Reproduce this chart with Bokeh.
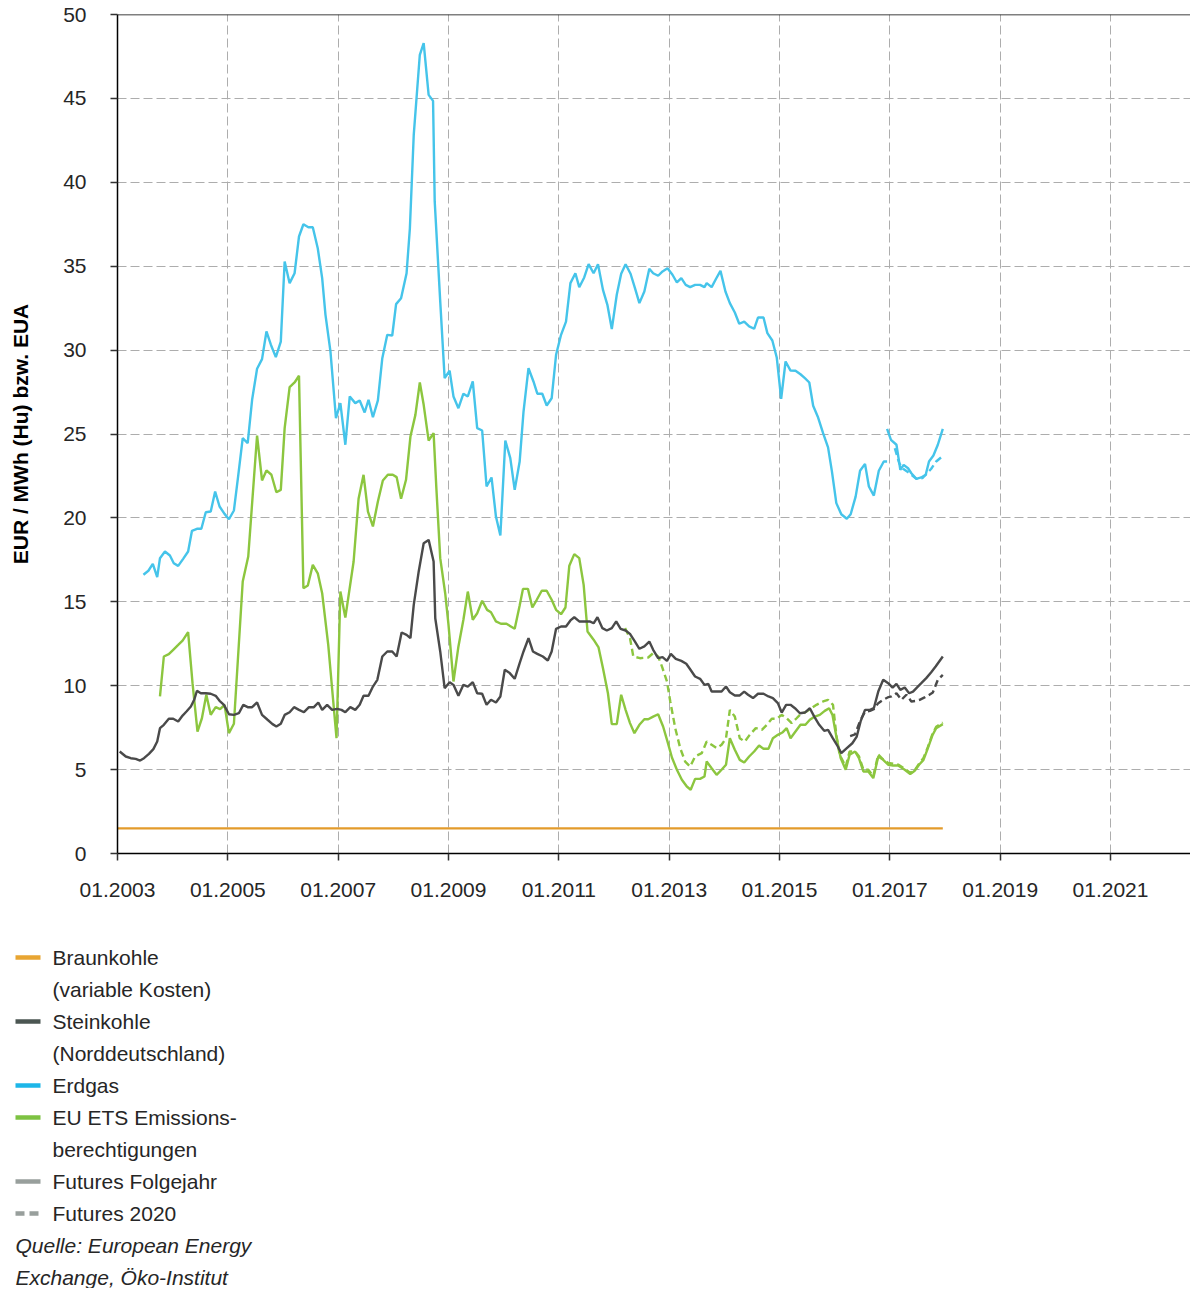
from bokeh.plotting import figure
from bokeh.models import Range1d, FixedTicker, Span
from bokeh.layouts import column
from bokeh.embed import file_html
from bokeh.resources import INLINE
from bokeh.core.properties import value

FONT = "Liberation Sans"

# ---------------- data (decimal years, EUR) ----------------
braun_years = [2003.00, 2017.96]
braun_vals = [1.5, 1.5]

stein_years = [
    2003.04, 2003.15, 2003.24, 2003.33, 2003.41, 2003.48, 2003.57, 2003.65, 2003.72, 2003.77, 2003.84, 2003.93,
    2004.01, 2004.10, 2004.18, 2004.25, 2004.33, 2004.39, 2004.44, 2004.51, 2004.60, 2004.69, 2004.78, 2004.85, 2004.93,
    2005.02, 2005.11, 2005.20, 2005.28, 2005.36, 2005.44, 2005.53, 2005.62, 2005.72, 2005.81, 2005.88, 2005.96,
    2006.03, 2006.12, 2006.20, 2006.29, 2006.38, 2006.47, 2006.56, 2006.64, 2006.71, 2006.80, 2006.89, 2006.98,
    2007.06, 2007.13, 2007.22, 2007.31, 2007.39, 2007.46, 2007.55, 2007.63, 2007.71, 2007.80, 2007.89, 2007.98,
    2008.06, 2008.15, 2008.24, 2008.31, 2008.37, 2008.46, 2008.55, 2008.64, 2008.73, 2008.76, 2008.85, 2008.93,
    2009.02, 2009.09, 2009.18, 2009.27, 2009.35, 2009.44, 2009.52, 2009.61, 2009.69, 2009.77, 2009.86, 2009.94,
    2010.02, 2010.11, 2010.20, 2010.29, 2010.36, 2010.45, 2010.53, 2010.61, 2010.71, 2010.80, 2010.87, 2010.95,
    2011.04, 2011.13, 2011.21, 2011.28, 2011.37, 2011.46, 2011.56, 2011.63, 2011.70, 2011.79, 2011.87, 2011.96,
    2012.04, 2012.12, 2012.21, 2012.29, 2012.38, 2012.46, 2012.55, 2012.64, 2012.71, 2012.80, 2012.88, 2012.96,
    2013.03, 2013.12, 2013.22, 2013.31, 2013.38, 2013.47, 2013.56, 2013.64, 2013.71, 2013.77, 2013.86, 2013.95,
    2014.03, 2014.10, 2014.19, 2014.28, 2014.36, 2014.43, 2014.52, 2014.61, 2014.71, 2014.80, 2014.88, 2014.97,
    2015.04, 2015.12, 2015.20, 2015.28, 2015.37, 2015.46, 2015.55, 2015.63, 2015.72, 2015.81, 2015.88, 2015.96,
    2016.04, 2016.12, 2016.22, 2016.32, 2016.40, 2016.47, 2016.55, 2016.64, 2016.71, 2016.79, 2016.88, 2016.97,
    2017.05, 2017.12, 2017.19, 2017.27, 2017.35, 2017.42, 2017.49, 2017.57, 2017.66, 2017.75, 2017.83, 2017.96,
]
stein_vals = [
    6.08, 5.78, 5.68, 5.64, 5.54, 5.68, 5.94, 6.22, 6.67, 7.47, 7.67, 8.03,
    8.03, 7.87, 8.22, 8.46, 8.76, 9.16, 9.70, 9.55, 9.55, 9.52, 9.40, 9.10, 8.86,
    8.30, 8.26, 8.36, 8.86, 8.72, 8.72, 9.00, 8.26, 7.97, 7.71, 7.57, 7.73,
    8.26, 8.42, 8.72, 8.56, 8.42, 8.72, 8.72, 9.00, 8.56, 8.86, 8.56, 8.62,
    8.56, 8.42, 8.72, 8.56, 8.86, 9.40, 9.40, 9.95, 10.35, 11.74, 12.04, 12.04,
    11.74, 13.17, 13.03, 12.83, 14.82, 16.81, 18.49, 18.69, 17.40, 14.02, 12.04, 9.85,
    10.21, 10.05, 9.40, 10.05, 9.95, 10.21, 9.55, 9.52, 8.86, 9.16, 9.00, 9.36,
    10.95, 10.75, 10.41, 11.34, 12.04, 12.83, 12.04, 11.90, 11.74, 11.50, 12.04, 13.39,
    13.53, 13.53, 13.89, 14.08, 13.83, 13.83, 13.83, 13.72, 14.08, 13.43, 13.29, 13.43,
    13.83, 13.39, 13.29, 13.09, 12.63, 12.20, 12.34, 12.63, 12.14, 11.64, 11.70, 11.48,
    11.90, 11.60, 11.48, 11.31, 10.98, 10.55, 10.41, 10.05, 10.11, 9.65, 9.65, 9.65,
    9.95, 9.61, 9.42, 9.42, 9.65, 9.46, 9.26, 9.52, 9.52, 9.36, 9.26, 8.96,
    8.40, 8.86, 8.86, 8.66, 8.36, 8.40, 8.66, 8.16, 7.67, 7.31, 7.37, 6.91,
    6.48, 5.98, 6.28, 6.57, 6.97, 7.87, 8.56, 8.56, 8.66, 9.65, 10.35, 10.15,
    9.89, 10.11, 9.75, 9.89, 9.55, 9.65, 9.89, 10.15, 10.45, 10.80, 11.14, 11.74,
]

stein_fut2020_years = [2016.28, 2016.37, 2016.46, 2016.55, 2016.64, 2016.71, 2016.79, 2016.88, 2016.96, 2017.03,
                       2017.12, 2017.21, 2017.30, 2017.39, 2017.48, 2017.54, 2017.63, 2017.71, 2017.78, 2017.87, 2017.96]
stein_fut2020_vals = [7.0, 7.1, 7.9, 8.45, 8.5, 8.6, 8.96, 9.16, 9.3, 9.36,
                      9.55, 9.16, 9.46, 9.06, 9.1, 9.16, 9.3, 9.45, 9.6, 10.35, 10.65]

gas_years = [
    2003.47, 2003.56, 2003.64, 2003.72, 2003.77, 2003.86, 2003.95, 2004.02, 2004.10, 2004.19, 2004.28, 2004.35,
    2004.44, 2004.52, 2004.60, 2004.69, 2004.77, 2004.85, 2004.94, 2005.02, 2005.11, 2005.19, 2005.27, 2005.36,
    2005.44, 2005.53, 2005.62, 2005.70, 2005.78, 2005.87, 2005.96, 2006.03, 2006.12, 2006.21, 2006.29, 2006.37,
    2006.46, 2006.54, 2006.63, 2006.71, 2006.77, 2006.86, 2006.96, 2007.04, 2007.13, 2007.21, 2007.31, 2007.39,
    2007.48, 2007.55, 2007.63, 2007.72, 2007.80, 2007.89, 2007.98, 2008.05, 2008.14, 2008.24, 2008.30, 2008.37,
    2008.48, 2008.55, 2008.64, 2008.72, 2008.75, 2008.85, 2008.93, 2009.02, 2009.09, 2009.18, 2009.27, 2009.35,
    2009.44, 2009.52, 2009.61, 2009.69, 2009.78, 2009.86, 2009.94, 2010.03, 2010.12, 2010.20, 2010.29, 2010.36,
    2010.45, 2010.54, 2010.61, 2010.70, 2010.78, 2010.87, 2010.95, 2011.04, 2011.13, 2011.21, 2011.30, 2011.37,
    2011.46, 2011.54, 2011.63, 2011.71, 2011.80, 2011.88, 2011.96, 2012.05, 2012.13, 2012.21, 2012.30, 2012.38,
    2012.46, 2012.55, 2012.64, 2012.71, 2012.80, 2012.88, 2012.97, 2013.06, 2013.14, 2013.22, 2013.30, 2013.38,
    2013.47, 2013.56, 2013.64, 2013.68, 2013.77, 2013.85, 2013.93, 2014.02, 2014.10, 2014.19, 2014.27, 2014.36,
    2014.45, 2014.54, 2014.61, 2014.71, 2014.78, 2014.87, 2014.95, 2015.03, 2015.11, 2015.20, 2015.29, 2015.38,
    2015.46, 2015.54, 2015.61, 2015.70, 2015.79, 2015.88, 2015.95, 2016.03, 2016.12, 2016.22, 2016.29, 2016.38,
    2016.46, 2016.55, 2016.62, 2016.71, 2016.80, 2016.89, 2016.95,
]
gas_vals = [
    16.61, 16.85, 17.26, 16.47, 17.60, 18.00, 17.76, 17.30, 17.14, 17.56, 18.00, 19.23,
    19.35, 19.35, 20.34, 20.38, 21.57, 20.68, 20.24, 19.92, 20.44, 22.57, 24.75, 24.45,
    27.04, 28.89, 29.46, 31.11, 30.32, 29.58, 30.51, 35.28, 33.99, 34.58, 36.77, 37.50,
    37.32, 37.32, 36.07, 34.29, 32.10, 29.92, 25.94, 26.84, 24.36, 27.24, 26.84, 27.00,
    26.28, 27.04, 26.00, 27.00, 29.52, 30.91, 30.87, 32.74, 33.09, 34.58, 37.26, 42.83,
    47.60, 48.29, 45.21, 44.85, 38.86, 32.90, 28.33, 28.77, 27.24, 26.54, 27.40, 27.24,
    28.13, 25.35, 25.21, 21.87, 22.41, 20.08, 18.95, 24.61, 23.56, 21.67, 23.36, 26.34,
    28.92, 28.13, 27.40, 27.40, 26.70, 27.13, 29.72, 30.91, 31.70, 33.99, 34.58, 33.75,
    34.33, 35.12, 34.58, 35.12, 33.59, 32.70, 31.25, 33.30, 34.55, 35.12, 34.55, 33.69,
    32.80, 33.49, 34.85, 34.58, 34.43, 34.69, 34.88, 34.49, 34.03, 34.29, 33.89, 33.75,
    33.89, 33.89, 33.75, 33.99, 33.75, 34.25, 34.72, 33.49, 32.80, 32.24, 31.57, 31.70,
    31.41, 31.27, 31.94, 31.94, 31.01, 30.57, 29.56, 27.10, 29.32, 28.78, 28.77, 28.56,
    28.33, 28.07, 26.68, 25.98, 25.05, 24.20, 22.77, 20.88, 20.22, 19.95, 20.22, 21.27,
    22.81, 23.22, 21.87, 21.33, 22.81, 23.36, 23.36,
]

gas_futnext_years = [2016.95, 2017.02, 2017.12, 2017.19, 2017.25, 2017.33, 2017.39, 2017.48, 2017.57, 2017.65,
                     2017.71, 2017.79, 2017.87, 2017.96]
gas_futnext_vals = [25.31, 24.65, 24.36, 22.87, 23.16, 22.96, 22.66, 22.33, 22.41, 22.57,
                    23.36, 23.72, 24.36, 25.31]

gas_fut2020_years = [2017.09, 2017.17, 2017.24, 2017.36, 2017.48, 2017.59, 2017.66, 2017.75, 2017.84, 2017.95]
gas_fut2020_vals = [24.15, 23.26, 22.93, 22.66, 22.33, 22.37, 22.60, 22.93, 23.36, 23.66]

ets_years = [
    2003.77, 2003.84, 2003.93, 2004.01, 2004.10, 2004.18, 2004.28, 2004.36, 2004.45, 2004.53, 2004.61, 2004.69,
    2004.78, 2004.86, 2004.94, 2005.02, 2005.11, 2005.27, 2005.37, 2005.53, 2005.62, 2005.70, 2005.79, 2005.88,
    2005.96, 2006.03, 2006.12, 2006.21, 2006.29, 2006.37, 2006.45, 2006.54, 2006.63, 2006.71, 2006.82, 2006.90,
    2006.97, 2007.04, 2007.13, 2007.28, 2007.37, 2007.46, 2007.54, 2007.63, 2007.72, 2007.81, 2007.90, 2007.99,
    2008.06, 2008.14, 2008.23, 2008.31, 2008.40, 2008.48, 2008.55, 2008.64, 2008.73, 2008.78, 2008.85, 2008.94,
    2009.00, 2009.09, 2009.18, 2009.27, 2009.35, 2009.44, 2009.52, 2009.61, 2009.70, 2009.77, 2009.86, 2009.95,
    2010.05, 2010.13, 2010.20, 2010.29, 2010.35, 2010.44, 2010.52, 2010.60, 2010.69, 2010.78, 2010.87, 2010.95,
    2011.04, 2011.12, 2011.19, 2011.28, 2011.37, 2011.45, 2011.52, 2011.63, 2011.72, 2011.80, 2011.89, 2011.96,
    2012.05, 2012.13, 2012.21, 2012.29, 2012.37, 2012.46, 2012.55, 2012.62, 2012.71, 2012.80, 2012.89, 2012.97,
    2013.05, 2013.14, 2013.23, 2013.32, 2013.39, 2013.47, 2013.56, 2013.64, 2013.68, 2013.77, 2013.86, 2013.95,
    2014.03, 2014.10, 2014.19, 2014.28, 2014.36, 2014.45, 2014.54, 2014.63, 2014.71, 2014.80, 2014.88, 2014.97,
    2015.06, 2015.13, 2015.20, 2015.29, 2015.38, 2015.47, 2015.55, 2015.64, 2015.73, 2015.82, 2015.90, 2015.96,
    2016.03, 2016.11, 2016.20, 2016.27, 2016.37, 2016.44, 2016.52, 2016.61, 2016.70, 2016.79, 2016.88, 2016.97,
    2017.06, 2017.15, 2017.27, 2017.37, 2017.45, 2017.53, 2017.61, 2017.69, 2017.77, 2017.84, 2017.96,
]
ets_vals = [
    9.36, 11.74, 11.88, 12.14, 12.43, 12.69, 13.19, 10.15, 7.27, 8.06, 9.46, 8.27,
    8.72, 8.60, 8.86, 7.17, 7.73, 16.21, 17.70, 24.91, 22.23, 22.83, 22.57, 21.53,
    21.67, 25.35, 27.79, 28.07, 28.47, 15.81, 15.97, 17.20, 16.70, 15.51, 12.43, 9.46,
    6.87, 15.61, 14.06, 17.40, 21.14, 22.57, 20.38, 19.49, 20.98, 22.23, 22.57, 22.57,
    22.43, 21.14, 22.27, 24.85, 26.14, 28.07, 26.74, 24.61, 25.05, 21.77, 17.60, 15.51,
    13.63, 10.25, 12.34, 13.93, 15.61, 13.93, 14.32, 15.06, 14.52, 14.38, 13.83, 13.69,
    13.69, 13.53, 13.39, 14.78, 15.77, 15.77, 14.66, 15.12, 15.66, 15.66, 15.12, 14.52,
    14.26, 14.66, 17.15, 17.84, 17.60, 16.01, 13.23, 12.74, 12.28, 11.04, 9.55, 7.71,
    7.71, 9.46, 8.56, 7.77, 7.17, 7.67, 8.00, 8.00, 8.16, 8.30, 7.57, 6.67,
    5.72, 4.99, 4.39, 3.99, 3.80, 4.45, 4.45, 4.59, 5.48, 5.08, 4.69, 4.99,
    5.29, 6.87, 6.18, 5.58, 5.42, 5.78, 6.08, 6.44, 6.24, 6.24, 6.87, 7.07,
    7.23, 7.47, 6.87, 7.27, 7.67, 7.67, 7.97, 8.16, 8.26, 8.50, 8.66, 8.26,
    6.97, 5.68, 4.99, 5.88, 6.08, 5.68, 4.89, 4.89, 4.49, 5.78, 5.58, 5.29,
    5.24, 5.24, 4.99, 4.73, 4.93, 5.29, 5.58, 6.28, 7.03, 7.47, 7.71,
]

ets_fut2020_years = [
    2012.20, 2012.29, 2012.35, 2012.47, 2012.62, 2012.71, 2012.80, 2012.87, 2012.96, 2013.02, 2013.11, 2013.20,
    2013.29, 2013.38, 2013.47, 2013.59, 2013.68, 2013.77, 2013.86, 2013.95, 2014.03, 2014.10, 2014.19, 2014.28,
    2014.37, 2014.46, 2014.57, 2014.68, 2014.77, 2014.86, 2014.95, 2015.04, 2015.13, 2015.22, 2015.31, 2015.37,
    2015.49, 2015.58, 2015.67, 2015.79, 2015.88, 2015.97, 2016.03, 2016.09, 2016.20, 2016.27, 2016.37, 2016.44,
    2016.52, 2016.61, 2016.70, 2016.79, 2016.88, 2016.97, 2017.06, 2017.15, 2017.27, 2017.37, 2017.45, 2017.53,
    2017.61, 2017.69, 2017.77, 2017.84, 2017.96,
]
ets_fut2020_vals = [
    13.43, 12.83, 11.74, 11.64, 11.68, 11.94, 11.74, 11.14, 10.25, 9.06, 7.47, 6.28,
    5.48, 5.18, 5.78, 5.98, 6.67, 6.48, 6.28, 6.48, 6.87, 8.56, 8.16, 6.87,
    6.67, 7.07, 7.47, 7.37, 7.67, 8.03, 8.03, 8.26, 8.06, 7.77, 8.06, 8.26,
    8.46, 8.66, 8.86, 9.06, 9.16, 8.86, 7.07, 5.88, 5.18, 6.08, 6.08, 5.80,
    5.00, 5.00, 4.60, 5.90, 5.60, 5.40, 5.35, 5.30, 5.05, 4.80, 4.95, 5.35,
    5.70, 6.35, 7.10, 7.55, 7.80,
]

x_ticks = [2003, 2005, 2007, 2009, 2011, 2013, 2015, 2017, 2019, 2021]
x_tick_labels = ["01.2003", "01.2005", "01.2007", "01.2009", "01.2011",
                 "01.2013", "01.2015", "01.2017", "01.2019", "01.2021"]
y_ticks = [0, 5, 10, 15, 20, 25, 30, 35, 40, 45, 50]

legend_rows = ["Braunkohle", "(variable Kosten)", "Steinkohle", "(Norddeutschland)", "Erdgas",
               "EU ETS Emissions-", "berechtigungen", "Futures Folgejahr", "Futures 2020"]
source_rows = ["Quelle: European Energy", "Exchange, Öko-Institut"]

# ---------------- colours ----------------
C_BRAUN = "#E39B2B"
C_STEIN = "#4A4A4A"
C_GAS = "#45C4EA"
C_ETS = "#8CC63F"
LEG_BRAUN = "#E8A532"
LEG_STEIN = "#4B5652"
LEG_GAS = "#1DB6E8"
LEG_ETS = "#7DC242"
LEG_FUT = "#989F9C"
TEXT = "#262626"

W = 1190
MAIN_H = 918
p = figure(width=W, height=MAIN_H, x_range=Range1d(2003, 2022.45), y_range=Range1d(0, 50),
           output_backend="svg", toolbar_location=None,
           min_border_left=117, min_border_right=0, min_border_top=14, min_border_bottom=MAIN_H - 853)
p.outline_line_color = None
p.background_fill_color = "white"
p.frame_align = False

p.xaxis.ticker = FixedTicker(ticks=x_ticks)
p.xaxis.major_label_overrides = {t: l for t, l in zip(x_ticks, x_tick_labels)}
p.yaxis.ticker = FixedTicker(ticks=y_ticks)
for ax in (p.xaxis, p.yaxis):
    ax.axis_line_color = "black"
    ax.axis_line_width = 1.5
    ax.major_tick_line_color = "#333333"
    ax.major_tick_line_width = 1.5
    ax.major_tick_out = 7
    ax.major_tick_in = 0
    ax.minor_tick_line_color = None
    ax.major_label_text_font = FONT
    ax.major_label_text_font_size = "21px"
    ax.major_label_text_color = TEXT
p.xaxis.major_label_standoff = 22
p.yaxis.major_label_standoff = 24
p.yaxis.axis_label = "EUR / MWh (Hu) bzw. EUA"
p.yaxis.axis_label_text_font = FONT
p.yaxis.axis_label_text_font_size = "21px"
p.yaxis.axis_label_text_font_style = "bold"
p.yaxis.axis_label_text_color = "black"
p.yaxis.axis_label_standoff = 28

for g in (p.xgrid, p.ygrid):
    g.grid_line_color = "#ADADAD"
    g.grid_line_dash = "9 4"
    g.grid_line_width = 1

p.add_layout(Span(location=50, dimension="width", line_color="black", line_width=1.5))

LW = 2.4
p.line(braun_years, braun_vals, line_color=C_BRAUN, line_width=LW)
p.line(gas_years, gas_vals, line_color=C_GAS, line_width=LW)
p.line(gas_futnext_years, gas_futnext_vals, line_color=C_GAS, line_width=LW)
p.line(gas_fut2020_years, gas_fut2020_vals, line_color=C_GAS, line_width=LW, line_dash="7 4")
p.line(ets_fut2020_years, ets_fut2020_vals, line_color=C_ETS, line_width=LW, line_dash="7 4")
p.line(ets_years, ets_vals, line_color=C_ETS, line_width=LW)
p.line(stein_fut2020_years, stein_fut2020_vals, line_color=C_STEIN, line_width=LW, line_dash="7 4")
p.line(stein_years, stein_vals, line_color=C_STEIN, line_width=LW)

# ---------------- legend panel ----------------
LH = 370
leg = figure(width=W, height=LH, x_range=Range1d(0, W), y_range=Range1d(LH, 0),
             output_backend="svg", toolbar_location=None,
             x_axis_location=None, y_axis_location=None,
             min_border=0, min_border_left=0, min_border_right=0, min_border_top=0, min_border_bottom=0)
leg.grid.visible = False
leg.outline_line_color = None
leg.frame_align = False

row_y = [39 + 32 * i for i in range(11)]
swatches = [(0, LEG_BRAUN, "solid"), (2, LEG_STEIN, "solid"), (4, LEG_GAS, "solid"),
            (5, LEG_ETS, "solid"), (7, LEG_FUT, "solid"), (8, LEG_FUT, "9 5")]
for idx, col, dash in swatches:
    leg.line([15, 40], [row_y[idx], row_y[idx]], line_color=col, line_width=4.5, line_dash=dash)

leg.text(x=[52] * len(legend_rows), y=row_y[:len(legend_rows)], text=legend_rows,
         text_font=value(FONT), text_font_size="21px", text_color=TEXT,
         text_baseline="middle", text_align="left")
leg.text(x=[15, 15], y=row_y[9:11], text=source_rows,
         text_font=value(FONT), text_font_size="21px", text_font_style="italic", text_color=TEXT,
         text_baseline="middle", text_align="left")

layout = column(p, leg, spacing=0)
open("out.html", "w").write(file_html(layout, INLINE))
